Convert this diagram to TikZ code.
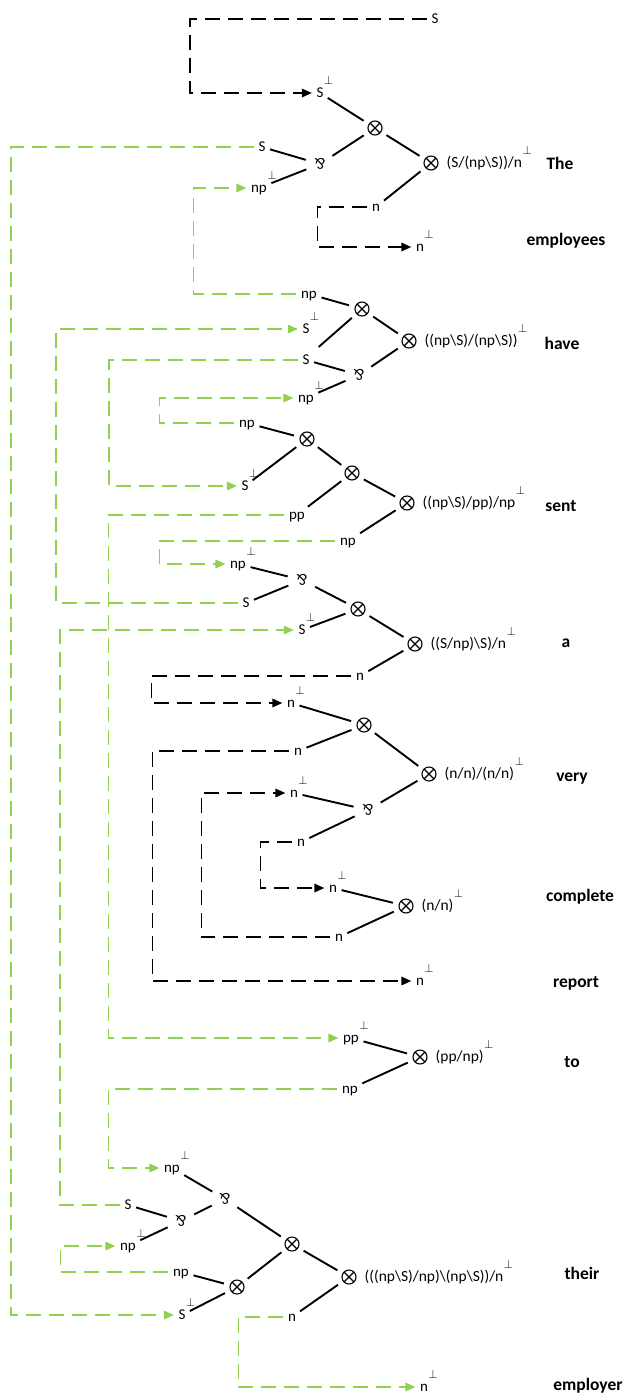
\documentclass[tikz,border=0pt]{standalone}
\usepackage{fontspec}
\setmainfont{Carlito}
\usetikzlibrary{arrows.meta,positioning}
\definecolor{linkgreen}{RGB}{146,208,80}
\newcommand{\perpsup}{\rlap{\kern0.5pt\smash{\raisebox{13pt}{\fontsize{12}{12}\selectfont$\perp$}}}}
\newcommand{\bsl}{\textbackslash}

\begin{document}
\begin{tikzpicture}[x=1pt,y=-1pt]
\tikzset{
  atomnode/.style={font=\fontsize{15}{18}\selectfont,inner sep=1.5pt,text height=9.5pt,text depth=0pt},
  tensornode/.style={circle,draw=black,line width=1.1pt,minimum size=14pt,inner sep=0pt,outer sep=6.5pt,
    path picture={\draw[line width=1.1pt] (path picture bounding box.north west) -- (path picture bounding box.south east)
      (path picture bounding box.north east) -- (path picture bounding box.south west);}},
  parnode/.style={circle,inner sep=0pt,minimum size=12pt,outer sep=7pt,rotate=180,font=\fontsize{16}{16}\selectfont},
  typenode/.style={inner sep=1pt,font=\fontsize{15.5}{18}\selectfont},
  wordnode/.style={inner sep=0pt,text height=12pt,text depth=3.5pt,font=\fontsize{17.5}{20}\selectfont\bfseries},
  graphedge/.style={draw=black,line width=1.9pt},
  atomedge/.style={graphedge,shorten <=3pt},
  blacklink/.style={draw=black,line width=1.6pt,dash pattern=on 15pt off 8pt,shorten <=3pt,shorten >=3pt,
    -{Triangle[length=10pt,width=8.5pt]}},
  greenlink/.style={blacklink,draw=linkgreen}
}
\useasboundingbox (0,0) rectangle (626,1394);
% atoms
\node[atomnode] (n_a00) at (435,19) {S};
\node[atomnode] (n_a01) at (320,93) {S\perpsup};
\node[atomnode] (n_a02) at (262,147) {S};
\node[atomnode] (n_a03) at (259,188) {np\perpsup};
\node[atomnode] (n_a04) at (376,207) {n};
\node[atomnode] (n_a05) at (420,247) {n\perpsup};
\node[atomnode] (n_a06) at (309,294) {np};
\node[atomnode] (n_a07) at (306,329) {S\perpsup};
\node[atomnode] (n_a08) at (306,360) {S};
\node[atomnode] (n_a09) at (306,398) {np\perpsup};
\node[atomnode] (n_a10) at (247,423) {np};
\node[atomnode] (n_a11) at (245,486) {S\perpsup};
\node[atomnode] (n_a12) at (297,515) {pp};
\node[atomnode] (n_a13) at (348,541) {np};
\node[atomnode] (n_a14) at (238,564) {np\perpsup};
\node[atomnode] (n_a15) at (246,603) {S};
\node[atomnode] (n_a16) at (302,630) {S\perpsup};
\node[atomnode] (n_a17) at (360,676) {n};
\node[atomnode] (n_a18) at (291,703) {n\perpsup};
\node[atomnode] (n_a19) at (298,751) {n};
\node[atomnode] (n_a20) at (294,793) {n\perpsup};
\node[atomnode] (n_a21) at (301,842) {n};
\node[atomnode] (n_a22) at (333,888) {n\perpsup};
\node[atomnode] (n_a23) at (339,937) {n};
\node[atomnode] (n_a24) at (420,981) {n\perpsup};
\node[atomnode] (n_a25) at (351,1038) {pp\perpsup};
\node[atomnode] (n_a26) at (350,1089) {np};
\node[atomnode] (n_a27) at (172,1168) {np\perpsup};
\node[atomnode] (n_a28) at (128,1205) {S};
\node[atomnode] (n_a29) at (128,1246) {np\perpsup};
\node[atomnode] (n_a30) at (181,1272) {np};
\node[atomnode] (n_a31) at (182,1315) {S\perpsup};
\node[atomnode] (n_a32) at (292,1317) {n};
\node[atomnode] (n_a33) at (424,1387) {n\perpsup};
% tensors and pars
\node[tensornode] (n_t01) at (375,128) {};
\node[tensornode] (n_t02) at (431,163) {};
\node[tensornode] (n_t03) at (362,309) {};
\node[tensornode] (n_t04) at (409,341) {};
\node[tensornode] (n_t05) at (307,439) {};
\node[tensornode] (n_t06) at (352,473) {};
\node[tensornode] (n_t07) at (407,503) {};
\node[tensornode] (n_t08) at (358,609) {};
\node[tensornode] (n_t09) at (415,644) {};
\node[tensornode] (n_t10) at (364,725) {};
\node[tensornode] (n_t11) at (429,774) {};
\node[tensornode] (n_t12) at (406,906) {};
\node[tensornode] (n_t13) at (420,1057) {};
\node[tensornode] (n_t14) at (292,1244) {};
\node[tensornode] (n_t15) at (237,1287) {};
\node[tensornode] (n_t16) at (349,1277) {};
\node[parnode] (n_p01) at (320,164) {\&};
\node[parnode] (n_p02) at (359,375) {\&};
\node[parnode] (n_p03) at (302,580) {\&};
\node[parnode] (n_p04) at (368,810) {\&};
\node[parnode] (n_p05) at (225,1199) {\&};
\node[parnode] (n_p06) at (181,1221) {\&};
% types
\node[typenode,right=1pt of n_t02] (n_y01) {(S/(np\bsl S))/n\perpsup};
\node[typenode,right=1pt of n_t04] (n_y02) {((np\bsl S)/(np\bsl S))\perpsup};
\node[typenode,right=1pt of n_t07] (n_y03) {((np\bsl S)/pp)/np\perpsup};
\node[typenode,right=1pt of n_t09] (n_y04) {((S/np)\bsl S)/n\perpsup};
\node[typenode,right=1pt of n_t11] (n_y05) {(n/n)/(n/n)\perpsup};
\node[typenode,right=1pt of n_t12] (n_y06) {(n/n)\perpsup};
\node[typenode,right=1pt of n_t13] (n_y07) {(pp/np)\perpsup};
\node[typenode,right=1pt of n_t16] (n_y08) {(((np\bsl S)/np)\bsl(np\bsl S))/n\perpsup};
% words
\node[wordnode] (n_w01) at (560,165) {The};
\node[wordnode] (n_w02) at (566,241) {employees};
\node[wordnode] (n_w03) at (562,345) {have};
\node[wordnode] (n_w04) at (561,507) {sent};
\node[wordnode] (n_w05) at (566,643) {a};
\node[wordnode] (n_w06) at (572,777) {very};
\node[wordnode] (n_w07) at (580,897) {complete};
\node[wordnode] (n_w08) at (576,983) {report};
\node[wordnode] (n_w09) at (572,1063) {to};
\node[wordnode] (n_w10) at (582,1275) {their};
\node[wordnode] (n_w11) at (588,1386) {employer};
% links of the proof net
\draw[atomedge] (n_a01) -- (n_t01);
\draw[graphedge] (n_t01) -- (n_t02);
\draw[graphedge] (n_t01) -- (n_p01);
\draw[atomedge] (n_a02) -- (n_p01);
\draw[atomedge] (n_a03) -- (n_p01);
\draw[atomedge] (n_a04) -- (n_t02);
\draw[atomedge] (n_a06) -- (n_t03);
\draw[graphedge] (n_t03) -- (n_t04);
\draw[atomedge,shorten <=10pt] (n_a08.north east) -- (n_t03);
\draw[atomedge] (n_a08) -- (n_p02);
\draw[graphedge] (n_p02) -- (n_t04);
\draw[atomedge] (n_a09) -- (n_p02);
\draw[atomedge] (n_a10) -- (n_t05);
\draw[graphedge] (n_t05) -- (n_t06);
\draw[atomedge] (n_a11) -- (n_t05);
\draw[graphedge] (n_t06) -- (n_t07);
\draw[atomedge] (n_a12) -- (n_t06);
\draw[atomedge] (n_a13) -- (n_t07);
\draw[atomedge] (n_a14) -- (n_p03);
\draw[atomedge] (n_a15) -- (n_p03);
\draw[graphedge] (n_p03) -- (n_t08);
\draw[graphedge] (n_t08) -- (n_t09);
\draw[atomedge] (n_a16) -- (n_t08);
\draw[atomedge] (n_a17) -- (n_t09);
\draw[atomedge] (n_a18) -- (n_t10);
\draw[atomedge] (n_a19) -- (n_t10);
\draw[graphedge] (n_t10) -- (n_t11);
\draw[graphedge] (n_p04) -- (n_t11);
\draw[atomedge] (n_a20) -- (n_p04);
\draw[atomedge] (n_a21) -- (n_p04);
\draw[atomedge] (n_a22) -- (n_t12);
\draw[atomedge] (n_a23) -- (n_t12);
\draw[atomedge] (n_a25) -- (n_t13);
\draw[atomedge] (n_a26) -- (n_t13);
\draw[atomedge] (n_a27) -- (n_p05);
\draw[graphedge] (n_p06) -- (n_p05);
\draw[graphedge] (n_p05) -- (n_t14);
\draw[atomedge] (n_a28) -- (n_p06);
\draw[atomedge] (n_a29) -- (n_p06);
\draw[atomedge] (n_a30) -- (n_t15);
\draw[atomedge] (n_a31) -- (n_t15);
\draw[graphedge] (n_t15) -- (n_t14);
\draw[graphedge] (n_t14) -- (n_t16);
\draw[atomedge] (n_a32) -- (n_t16);
% axiom links
\draw[blacklink] (n_a00.west) -- ++(-240,0) |- (n_a01.west);
\draw[blacklink] (n_a04.west) -- ++(-53,0) |- (n_a05.west);
\draw[blacklink] (n_a17.west) -- ++(-203,0) |- (n_a18.west);
\draw[blacklink] (n_a19.west) -- ++(-140,0) |- (n_a24.west);
\draw[blacklink] (n_a23.west) -- ++(-132,0) |- (n_a20.west);
\draw[blacklink] (n_a21.west) -- ++(-35,0) |- (n_a22.west);
\draw[greenlink] (n_a02.west) -- ++(-246,0) |- (n_a31.west);
\draw[greenlink] (n_a06.west) -- ++(-106,0) |- (n_a03.west);
\draw[greenlink] (n_a15.west) -- ++(-185,0) |- (n_a07.west);
\draw[greenlink] (n_a08.west) -- ++(-192,0) |- (n_a11.west);
\draw[greenlink] (n_a10.west) -- ++(-78,0) |- (n_a09.west);
\draw[greenlink] (n_a12.west) -- ++(-179,0) |- (n_a25.west);
\draw[greenlink] (n_a13.west) -- ++(-179,0) |- (n_a14.west);
\draw[greenlink] (n_a28.west) -- ++(-63,0) |- (n_a16.west);
\draw[greenlink] (n_a26.west) -- ++(-232,0) |- (n_a27.west);
\draw[greenlink] (n_a30.west) -- ++(-111,0) |- (n_a29.west);
\draw[greenlink] (n_a32.west) -- ++(-48,0) |- (n_a33.west);
\end{tikzpicture}
\end{document}
